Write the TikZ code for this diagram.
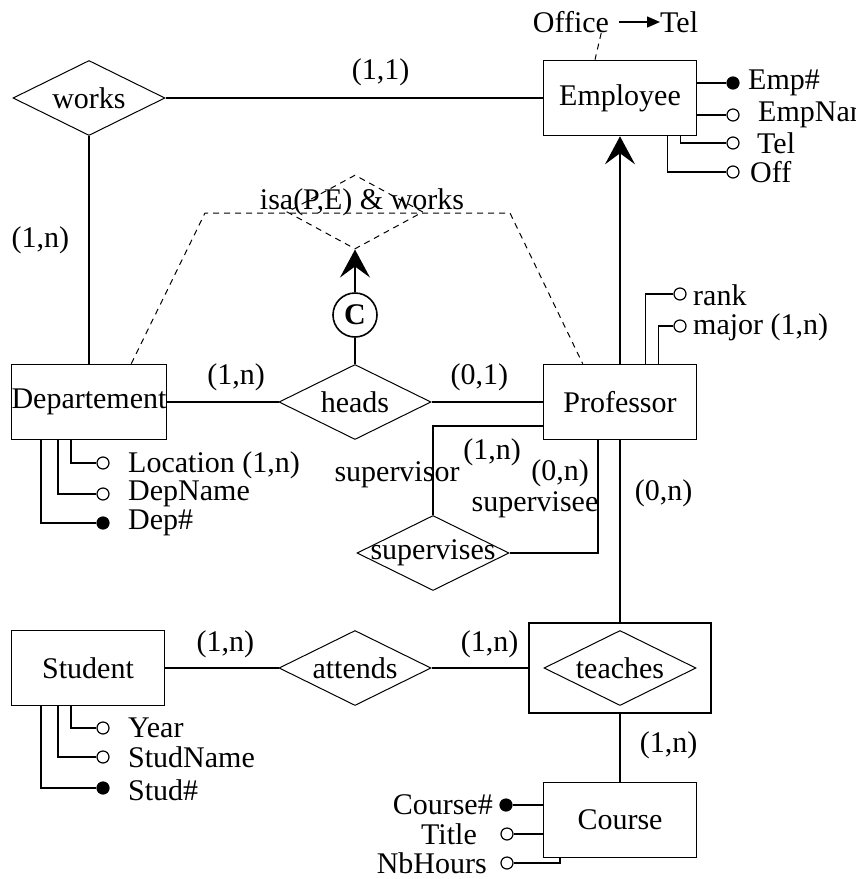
\documentclass[tikz,border=0pt]{standalone}
\usepackage{fontspec}
\setmainfont{Liberation Serif}
\usetikzlibrary{arrows.meta, positioning, shapes.geometric}
\newcommand{\erfont}{\fontsize{30}{36}\selectfont}
\newcommand{\nowidth}[1]{\makebox[0pt]{#1}}

\begin{document}
\begin{tikzpicture}[
    x=1pt, y=-1pt,
    every node/.style={font=\erfont},
    entity/.style={draw, line width=1.6pt, minimum width=153pt, minimum height=75pt, inner sep=0pt},
    relation/.style={diamond, draw, line width=1pt, minimum width=152pt, minimum height=75pt, inner sep=0pt},
    conn/.style={line width=1.6pt},
    isaarrow/.style={conn, -{Stealth[length=28pt, width=30pt, inset=11pt]}},
    dep/.style={line width=1pt, dash pattern=on 6pt off 5pt},
    attr/.style={circle, draw, line width=1.2pt, minimum size=12pt, inner sep=0pt, fill=white},
    key/.style={attr, fill=black},
    card/.style={inner sep=0pt},
    txt/.style={inner sep=0pt},
]
\useasboundingbox (0,0) rectangle (856,879);
\clip (0,0) rectangle (856,879);

% Entities
\node[entity] (emp) at (620,98) {Employee};
\node[entity] (dept) at (89,402) {Departement};
\node[entity] (prof) at (620,402) {Professor};
\node[entity] (stud) at (88,668) {Student};
\node[entity] (course) at (620,820) {Course};

% Relationships
\node[relation] (works) at (89,98) {\nowidth{works}};
\node[relation] (heads) at (355,402) {\nowidth{heads}};
\node[relation] (superv) at (433,553) {\nowidth{supervises}};
\node[relation] (attends) at (355,668) {\nowidth{attends}};
\node[draw, line width=1.6pt, minimum width=182pt, minimum height=90pt] (teachbox) at (620,668) {};
\node[relation] (teaches) at (620,668) {\nowidth{teaches}};

% isa constraint
\node[relation, dep, minimum width=136pt, minimum height=74pt] (isa) at (355,212) {};
\node[txt] (isatext) at (362,202) {isa(P,E) \& works};
\node[circle, draw, line width=1.6pt, minimum size=44pt, inner sep=0pt] (cov) at (355,315) {\textbf{C}};
\coordinate (hullL) at (205,213);
\coordinate (hullR) at (510,213);
\draw[dep] ([xshift=-36pt]dept.north east) -- (hullL) -- (hullR) -- ([xshift=40pt]prof.north west);

% Links
\draw[conn] (works.east) -- (emp.west) node[card, pos=0.57, above=11pt] {(1,1)};
\draw[conn] (works.south) -- (dept.north) node[card, pos=0.46, left=19pt] {(1,n)};
\draw[conn] (dept.east) -- (heads.west) node[card, pos=0.62, above=10pt] {(1,n)};
\draw[conn] (heads.east) -- (prof.west) node[card, pos=0.43, above=10pt] {(0,1)};
\draw[conn] (heads.north) -- (cov.south);
\draw[isaarrow] (cov.north) -- (isa.south);
\draw[isaarrow] (prof.north) -- (emp.south);
\draw[conn] ([yshift=-24pt]prof.west) -| (superv.north);
\draw[conn] (superv.east) -| ([xshift=55pt]prof.south west);
\draw[conn] (prof.south) -- (teachbox.north) node[card, pos=0.29, right=14pt] {(0,n)};
\draw[conn] (stud.east) -- (attends.west) node[card, pos=0.53, above=9pt] {(1,n)};
\draw[conn] (attends.east) -- (teachbox.west) node[card, pos=0.6, above=9pt] {(1,n)};
\draw[conn] (teachbox.south) -- (course.north) node[card, pos=0.46, right=19pt] {(1,n)};

% Roles of supervises
\node[card] (supvlab) at (397,475) {supervisor};
\node[card] (supvcard) at (492,452) {(1,n)};
\node[card] (supelab) at (535,505) {supervisee};
\node[card] (supecard) at (560,473) {(0,n)};

% Employee attributes
\node[txt] (office) at (571,22) {Office};
\node[txt, anchor=west] (offtel) at (660,22) {Tel};
\draw[line width=1.5pt, -{Triangle[length=13pt, width=11pt]}, shorten <=10pt] (office.east) -- (offtel.west);
\draw[dep] ([xshift=-8pt]office.south east) -- ([xshift=-25pt]emp.north);
\node[key] (empno) at (733,83) {};
\node[attr] (empnm) at (733,115) {};
\node[attr] (emptel) at (733,143) {};
\node[attr] (empoff) at (733,172) {};
\node[txt, anchor=west] (empnolab) at (748,83) {Emp\#};
\node[txt, anchor=west] (empnmlab) at (758,115) {EmpName};
\node[txt, anchor=west] (emptellab) at (757,143) {Tel};
\node[txt, anchor=west] (empofflab) at (750,172) {Off};
\draw[conn] (empno -| emp.east) -- (empno);
\draw[conn] (empnm -| emp.east) -- (empnm);
\draw[conn] ([xshift=-17pt]emp.south east) |- (emptel);
\draw[conn] ([xshift=-30pt]emp.south east) |- (empoff);

% Professor attributes
\node[attr] (rankc) at (680,294) {};
\node[attr] (majorc) at (680,326) {};
\node[txt, anchor=west] (ranklab) at (693,295) {rank};
\node[txt, anchor=west] (majorlab) at (693,327) {major (1,n)};
\draw[conn] ([xshift=-52pt]prof.north east) |- (rankc);
\draw[conn] ([xshift=-39pt]prof.north east) |- (majorc);

% Departement attributes
\node[attr] (locc) at (103,463) {};
\node[attr] (dnamec) at (103,494) {};
\node[key] (dnoc) at (103,523) {};
\node[txt, anchor=west] (loclab) at (128,465) {Location (1,n)};
\node[txt, anchor=west] (dnamelab) at (128,494) {DepName};
\node[txt, anchor=west] (dnolab) at (128,523) {Dep\#};
\draw[conn] ([xshift=60pt]dept.south west) |- (locc);
\draw[conn] ([xshift=47pt]dept.south west) |- (dnamec);
\draw[conn] ([xshift=30pt]dept.south west) |- (dnoc);

% Student attributes
\node[attr] (yearc) at (103,728) {};
\node[attr] (snamec) at (103,757) {};
\node[key] (snoc) at (103,788) {};
\node[txt, anchor=west] (yearlab) at (128,728) {Year};
\node[txt, anchor=west] (snamelab) at (128,757) {StudName};
\node[txt, anchor=west] (snolab) at (128,790) {Stud\#};
\draw[conn] ([xshift=60pt]stud.south west) |- (yearc);
\draw[conn] ([xshift=47pt]stud.south west) |- (snamec);
\draw[conn] ([xshift=30pt]stud.south west) |- (snoc);

% Course attributes
\node[key] (crsno) at (506,805) {};
\node[attr] (crstitle) at (507,834) {};
\node[attr] (crshours) at (507,863) {};
\node[txt, anchor=east] (crsnolab) at (493,805) {Course\#};
\node[txt, anchor=east] (crstitlelab) at (477,834) {Title};
\node[txt, anchor=east] (crshourslab) at (487,863) {NbHours};
\draw[conn] (crsno -| course.west) -- (crsno);
\draw[conn] (crstitle -| course.west) -- (crstitle);
\draw[conn] ([xshift=17pt]course.south west) |- (crshours);

\end{tikzpicture}
\end{document}
